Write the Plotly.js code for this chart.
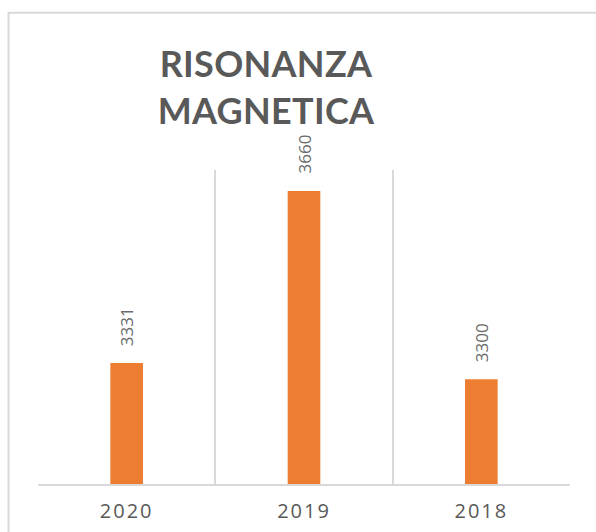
<!DOCTYPE html>
<html>
<head>
<meta charset="utf-8">
<script src="https://cdn.plot.ly/plotly-3.0.1.min.js"></script>
<style>
  html, body { margin: 0; padding: 0; background: #fff; }
  #chart { width: 596px; height: 532px; }
  .xtick text { letter-spacing: 2px; }
  .gtitle { letter-spacing: 0.3px; }
</style>
</head>
<body>
<div id="chart"></div>
<script>
const categories = ["2020", "2019", "2018"];
const values = [3331, 3660, 3300];
const chartTitle = "RISONANZA<br>MAGNETICA";
const yRange = [3100, 3700];

const labelAnnotations = categories.map((c, i) => ({
  x: i, y: values[i], xref: "x", yref: "y",
  text: String(values[i]), showarrow: false, textangle: -90,
  xanchor: "center", yanchor: "bottom", yshift: 15,
  font: { family: "Open Sans", size: 17, color: "#6b6b6b" }
}));

const data = [{
  type: "bar",
  x: categories,
  y: values,
  width: 0.184,
  marker: { color: "#ED7D31" },
  hoverinfo: "none"
}];

const layout = {
  width: 596, height: 532,
  paper_bgcolor: "#ffffff", plot_bgcolor: "#ffffff",
  margin: { l: 37.5, r: 26, t: 170, b: 48.3, pad: 0 },
  showlegend: false,
  title: {
    text: chartTitle,
    xref: "container", yref: "container",
    x: 266 / 596, xanchor: "center",
    y: 1 - 77 / 532, yanchor: "top",
    font: { family: "Lato", size: 36, color: "#595959", weight: 700 }
  },
  xaxis: {
    type: "category",
    range: [-0.5, 2.5],
    tickson: "boundaries",
    showgrid: true, gridcolor: "#D9D9D9", gridwidth: 2,
    showline: true, linecolor: "#D9D9D9", linewidth: 2,
    ticks: "", ticklabelstandoff: 8,
    tickfont: { family: "Open Sans", size: 20, color: "#595959" },
    fixedrange: true, zeroline: false
  },
  yaxis: {
    range: yRange, visible: false, showgrid: false, zeroline: false, fixedrange: true
  },
  annotations: labelAnnotations,
  shapes: [{
    type: "rect", xref: "paper", yref: "paper",
    x0: (8 - 37.5) / 532.5, x1: 1.3,
    y0: -0.5, y1: (483.7 - 13) / 313.7,
    line: { color: "#D9D9D9", width: 2 }, fillcolor: "rgba(0,0,0,0)", layer: "below"
  }]
};

Plotly.newPlot("chart", data, layout, { displayModeBar: false, staticPlot: true });
</script>
</body>
</html>
